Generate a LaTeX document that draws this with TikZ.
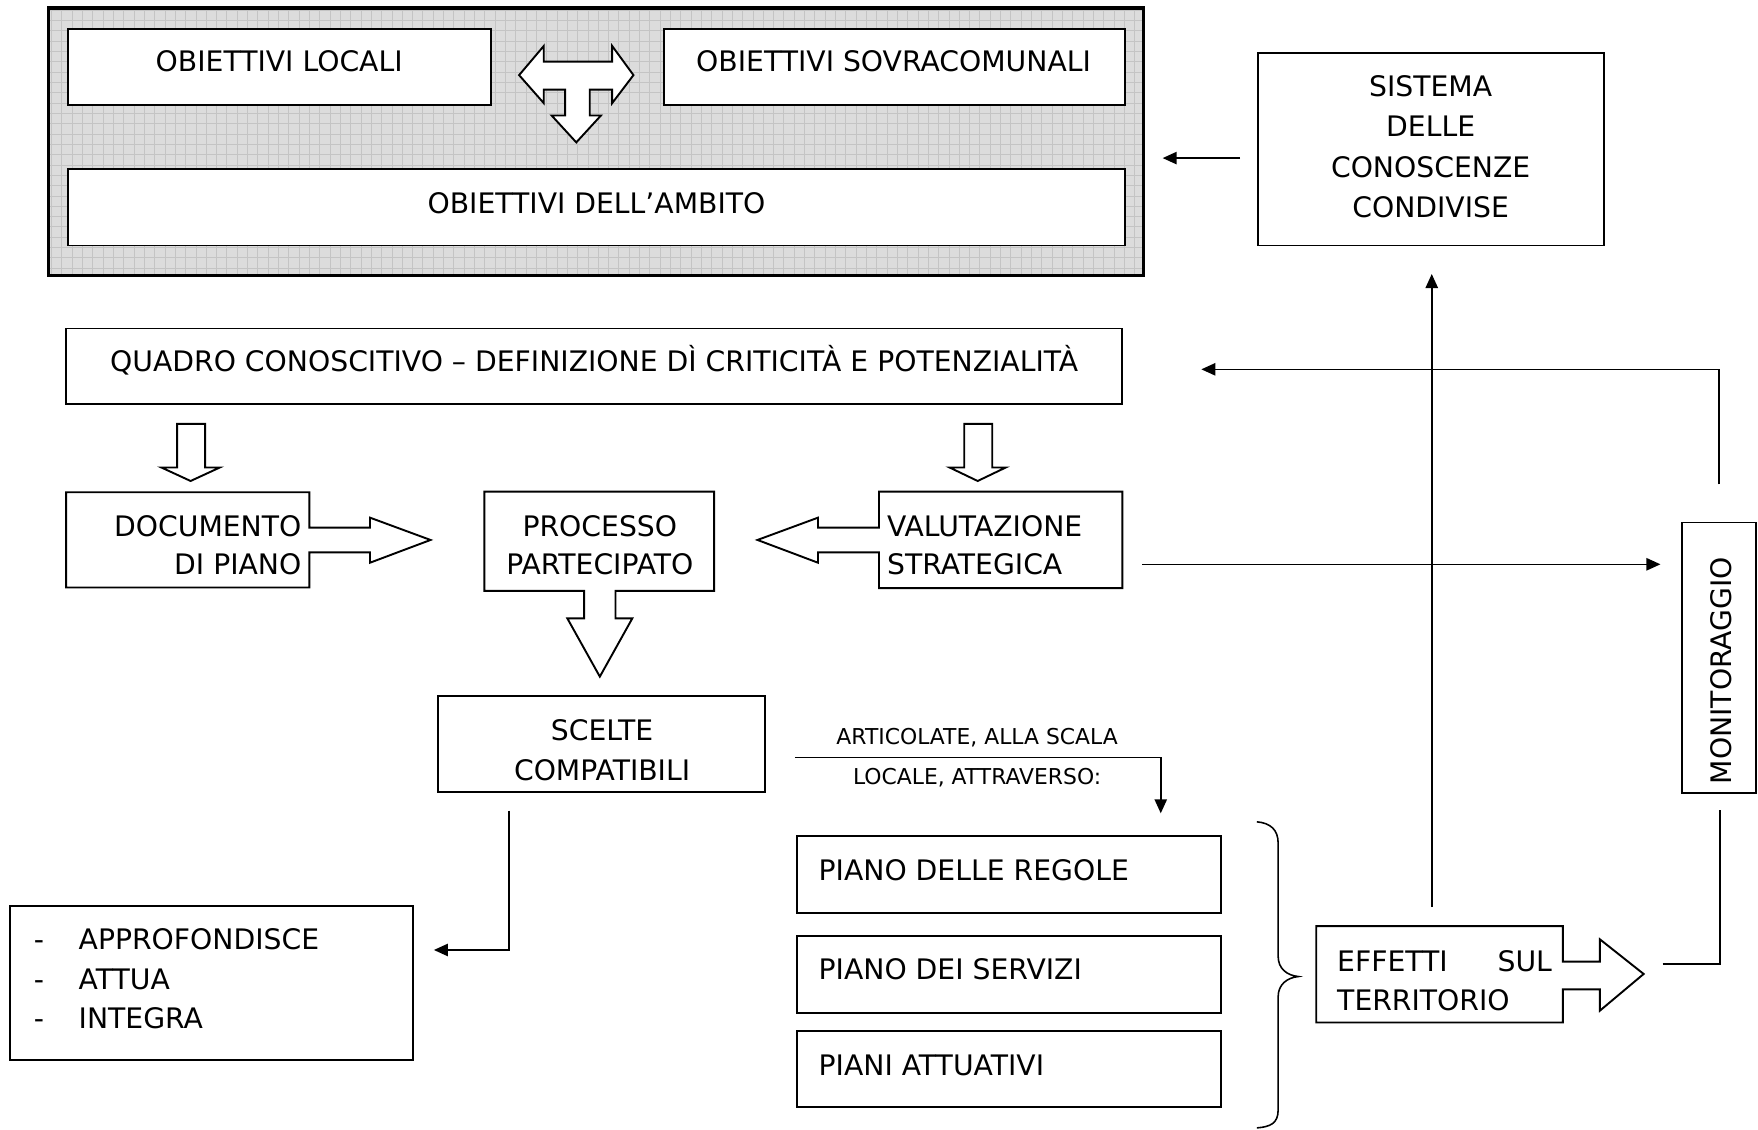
\documentclass[tikz,border=0pt]{standalone}
\usepackage{fontspec}
\setmainfont{DejaVu Sans}
\usetikzlibrary{arrows.meta}
\definecolor{gfill}{RGB}{220,220,220}
\definecolor{gline}{RGB}{196,196,196}
\begin{document}
\begin{tikzpicture}[x=1pt,y=-1pt,
  box/.style={draw, line width=1.7pt, fill=white, inner sep=0pt},
  shp/.style={draw, line width=1.7pt, fill=white, line join=miter},
  txt/.style={inner sep=0pt, font=\fontsize{25.2}{35}\selectfont},
  smalltxt/.style={inner sep=0pt, font=\fontsize{19.5}{24}\selectfont},
  conn/.style={line width=1.4pt, -{Triangle[length=12.5pt,width=11pt]}},
  plainline/.style={line width=1.4pt},
]
\useasboundingbox (0,0) rectangle (1568,1007);

% outer shaded frame
\fill[gfill] (43,7) rectangle (1020,246);
\begin{scope}
  \clip (43,7) rectangle (1020,246);
  \draw[gline, line width=0.8pt, step=9.2pt] (43,246) grid (1020,7);
\end{scope}
\node[draw, line width=3pt, minimum width=977pt, minimum height=239pt, inner sep=0pt] (outer) at (531.5,126.5) {};

% boxes
\node[box, minimum width=377pt, minimum height=68pt] (loc) at (249.5,60) {};
\node[box, minimum width=411pt, minimum height=68pt] (sov) at (797.5,60) {};
\node[box, minimum width=942pt, minimum height=68pt] (amb) at (532,185) {};
\node[box, minimum width=309pt, minimum height=171.5pt] (sis) at (1276.5,133.25) {};
\node[box, minimum width=942pt, minimum height=67pt] (qua) at (530,326.5) {};
\node[box, minimum width=292pt, minimum height=86pt] (sce) at (536.5,663.6) {};
\node[box, minimum width=359pt, minimum height=137.4pt] (app) at (188.5,876.7) {};
\node[box, minimum width=378pt, minimum height=69pt] (pr1) at (900,780.1) {};
\node[box, minimum width=378pt, minimum height=69pt] (pr2) at (900,869.3) {};
\node[box, minimum width=378pt, minimum height=68.3pt] (pr3) at (900,953.45) {};
\node[box, minimum width=66pt, minimum height=241pt] (mon) at (1533,586.5) {};

% T-shaped block arrow
\draw[shp] (463,67) -- (485,41) -- (485,55) -- (546,55) -- (546,41) -- (565,67) -- (546,92) -- (546,80) -- (526,80) -- (526,103) -- (536,103) -- (514,127) -- (492,103) -- (504,103) -- (504,80) -- (485,80) -- (485,92) -- cycle;

% hollow down arrows
\draw[shp] (158,378) -- (183,378) -- (183,417) -- (196,417) -- (170,429) -- (144,417) -- (158,417) -- cycle;
\draw[shp] (860,378) -- (885,378) -- (885,417) -- (897,417) -- (872,429) -- (847,417) -- (860,417) -- cycle;

% boxes with block arrows
\draw[shp] (59,439) -- (276,439) -- (276,470.6) -- (330,470.6) -- (330,461.7) -- (384,481.6) -- (330,501.9) -- (330,492.6) -- (276,492.6) -- (276,524) -- (59,524) -- cycle;
\draw[shp] (432,438.5) -- (637,438.5) -- (637,527) -- (549,527) -- (549,551.5) -- (564,551.5) -- (535,603.5) -- (506,551.5) -- (521,551.5) -- (521,527) -- (432,527) -- cycle;
\draw[shp] (784,438.5) -- (1001,438.5) -- (1001,524.5) -- (784,524.5) -- (784,492.6) -- (729.6,492.6) -- (729.6,501.9) -- (675.6,481.6) -- (729.6,461.7) -- (729.6,470.6) -- (784,470.6) -- cycle;
\draw[shp] (1174,826) -- (1394,826) -- (1394,857.7) -- (1427,857.7) -- (1427,837.8) -- (1466,868.7) -- (1427,901.4) -- (1427,882.4) -- (1394,882.4) -- (1394,912) -- (1174,912) -- cycle;

% texts
\node[txt, anchor=base] (tloc) at (249,64) {OBIETTIVI LOCALI};
\node[txt, anchor=base] (tsov) at (797,64) {OBIETTIVI SOVRACOMUNALI};
\node[txt, anchor=base] (tamb) at (532,190) {OBIETTIVI DELL’AMBITO};
\node[txt, align=center, font=\fontsize{25.2}{36}\selectfont] (tsis) at (1276,131) {SISTEMA\\DELLE\\CONOSCENZE\\CONDIVISE};
\node[txt, anchor=base] (tqua) at (530,331) {QUADRO CONOSCITIVO – DEFINIZIONE DÌ CRITICITÀ E POTENZIALITÀ};
\node[txt, align=right, anchor=east, font=\fontsize{25.2}{34}\selectfont] (tdoc) at (269,486) {DOCUMENTO\\DI PIANO};
\node[txt, align=center, font=\fontsize{25.2}{34}\selectfont] (tpro) at (535,486) {PROCESSO\\PARTECIPATO};
\node[txt, align=left, anchor=west, font=\fontsize{25.2}{34}\selectfont] (tval) at (791,486) {VALUTAZIONE\\STRATEGICA};
\node[txt, align=center, font=\fontsize{25.2}{36}\selectfont] (tsce) at (537,669) {SCELTE\\COMPATIBILI};
\node[txt, align=left, anchor=west] (tapp) at (30,873) {\makebox[40pt][l]{-}APPROFONDISCE\\\makebox[40pt][l]{-}ATTUA\\\makebox[40pt][l]{-}INTEGRA};
\node[smalltxt, anchor=base] (tart1) at (871.5,664) {ARTICOLATE, ALLA SCALA};
\node[smalltxt, anchor=base] (tart2) at (871.5,700) {LOCALE, ATTRAVERSO:};
\node[txt, anchor=base west] (tp1) at (730,785) {PIANO DELLE REGOLE};
\node[txt, anchor=base west] (tp2) at (730,874) {PIANO DEI SERVIZI};
\node[txt, anchor=base west] (tp3) at (730,959) {PIANI ATTUATIVI};
\node[txt, align=left, anchor=west] (teff) at (1192.5,874.5) {\makebox[191.5pt][l]{EFFETTI\hfill SUL}\\TERRITORIO};
\node[txt, rotate=90] (tmon) at (1535,598) {MONITORAGGIO};

% brace
\draw[line width=1.4pt] (1121,733) .. controls (1133,734) and (1140,740) .. (1140,752) -- (1140,853) .. controls (1140,864) and (1148,870) .. (1158,871) .. controls (1148,872) and (1140,878) .. (1140,889) -- (1140,990) .. controls (1140,1002) and (1133,1005) .. (1121,1006);

% connectors
\coordinate (c1s) at (1106,141); \coordinate (c1e) at (1037,141);
\draw[conn] (c1s) -- (c1e);
\coordinate (c2s) at (1533,432); \coordinate (c2e) at (1071.5,329.4);
\draw[conn] (c2s) |- (c2e);
\coordinate (c3s) at (1277,809); \coordinate (c3e) at (1277,244.4);
\draw[conn] (c3s) -- (c3e);
\coordinate (c4s) at (1019,503.3); \coordinate (c4e) at (1481,503.3);
\draw[conn] (c4s) -- (c4e);
\coordinate (c5s) at (709,675.8); \coordinate (c5e) at (1035.3,725.4);
\draw[conn] (c5s) -| (c5e);
\coordinate (c6s) at (454,723); \coordinate (c6e) at (387,847.3);
\draw[conn] (c6s) |- (c6e);
\coordinate (c7s) at (1483,860); \coordinate (c7e) at (1534,722.5);
\draw[plainline] (c7s) -| (c7e);
\end{tikzpicture}
\end{document}
